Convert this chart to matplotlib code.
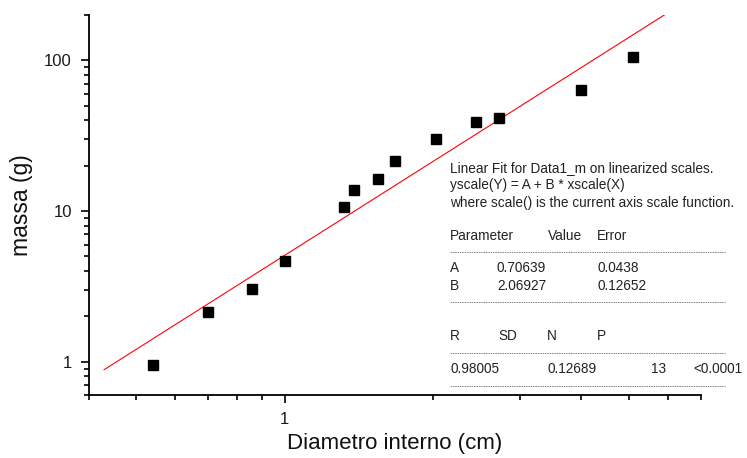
import numpy as np
import matplotlib
matplotlib.use("Agg")
import matplotlib.pyplot as plt
from matplotlib.ticker import LogLocator, NullFormatter, FuncFormatter

# measured data: inner diameter (cm) vs mass (g)
diametro = [0.54, 0.698, 0.858, 1.003, 1.32, 1.381, 1.546, 1.677, 2.025, 2.451, 2.728, 4.00, 5.085]
massa = [0.949, 2.13, 3.06, 4.64, 10.58, 13.84, 16.44, 21.44, 30.26, 38.86, 41.3, 63.3, 105.2]

# linear fit on log-log scales: log10(y) = A + B*log10(x)
fit_A, fit_A_err = 0.70639, 0.0438
fit_B, fit_B_err = 2.06927, 0.12652
fit_R, fit_SD, fit_N, fit_P = "0.98005", "0.12689", "13", "<0.0001"

W, H = 747, 458
plt.rcParams['font.family'] = ['Liberation Sans', 'DejaVu Sans']

fig = plt.figure(figsize=(W / 100, H / 100), dpi=100)
ax = fig.add_axes([88.6 / W, 1 - 395.3 / H, (701 - 88.6) / W, (395.3 - 15) / H])

ax.plot(diametro, massa, 's', color='black', markersize=7, zorder=3)

xf = np.logspace(np.log10(0.43), np.log10(7), 200)
ax.plot(xf, 10 ** (fit_A + fit_B * np.log10(xf)), color='red', lw=0.8, zorder=2)

ax.set_xscale('log')
ax.set_yscale('log')
ax.set_xlim(0.4, 7)
ax.set_ylim(0.6, 200)

for s in ['top', 'right']:
    ax.spines[s].set_visible(False)
for s in ['left', 'bottom']:
    ax.spines[s].set_linewidth(1.3)

fmt = FuncFormatter(lambda v, _: f"{v:g}")
for axis in [ax.xaxis, ax.yaxis]:
    axis.set_major_locator(LogLocator(base=10))
    axis.set_minor_locator(LogLocator(base=10, subs=np.arange(2, 10)))
    axis.set_major_formatter(fmt)
    axis.set_minor_formatter(NullFormatter())

ax.tick_params(which='major', direction='out', length=6, width=1.2,
               labelsize=12, pad=6, labelcolor='#1a1a1a')
ax.tick_params(which='minor', direction='out', length=3.5, width=1.2)

ax.set_xlabel("Diametro interno (cm)", fontsize=16, labelpad=4, color='#111111')
ax.set_ylabel("massa (g)", fontsize=16.5, labelpad=8, color='#111111')


def px(x, y):
    return x / W, 1 - y / H


# fit report block
fs = 9.8
rows = [
    (168, [(450, "Linear Fit for Data1_m on linearized scales.")]),
    (185, [(450, "yscale(Y) = A + B * xscale(X)")]),
    (203, [(450, "where scale() is the current axis scale function.")]),
    (236, [(450, "Parameter"), (548, "Value"), (597, "Error")]),
    (268, [(450, "A"), (497, f"{fit_A:.5f}"), (597, f"{fit_A_err}")]),
    (286, [(450, "B"), (497, f"{fit_B:.5f}"), (597, f"{fit_B_err}")]),
    (336, [(450, "R"), (498, "SD"), (547, "N"), (597, "P")]),
    (369, [(450, fit_R), (547, fit_SD), (651, fit_N), (693, fit_P)]),
]
for y, items in rows:
    for x, t in items:
        fig.text(*px(x, y), t, fontsize=fs, ha='left', va='center', color='#222222')

for y in [252, 302, 353, 386]:
    x0, y0 = px(450, y)
    x1, _ = px(725, y)
    fig.add_artist(plt.Line2D([x0, x1], [y0, y0], transform=fig.transFigure,
                              color='#555555', lw=0.5, dashes=(2.2, 1.2)))

fig.savefig("out.png", dpi=100)
